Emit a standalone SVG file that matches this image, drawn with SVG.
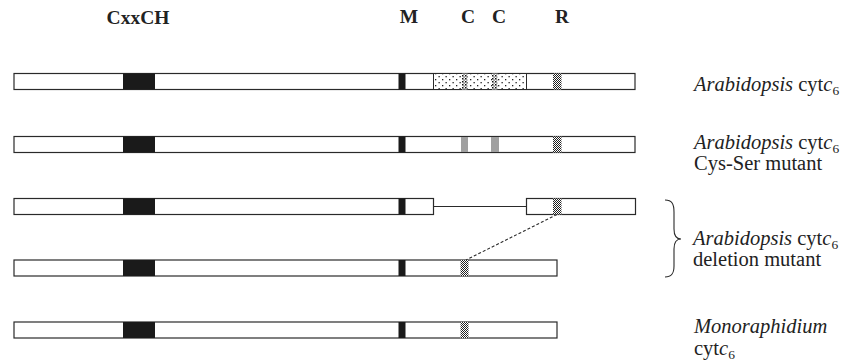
<svg xmlns="http://www.w3.org/2000/svg" width="845" height="363" viewBox="0 0 845 363">
  <defs>
    <pattern id="checker" width="2" height="2" patternUnits="userSpaceOnUse">
      <rect width="2" height="2" fill="#ffffff"/>
      <rect width="1" height="1" fill="#222"/>
      <rect x="1" y="1" width="1" height="1" fill="#222"/>
    </pattern>
    <pattern id="dots" width="7" height="6" patternUnits="userSpaceOnUse">
      <rect width="7" height="6" fill="#ffffff"/>
      <rect x="1" y="1" width="1.3" height="1.3" fill="#222"/>
      <rect x="4.5" y="4" width="1.3" height="1.3" fill="#222"/>
    </pattern>
    <pattern id="densedots" width="3" height="3" patternUnits="userSpaceOnUse">
      <rect width="3" height="3" fill="#ffffff"/>
      <rect width="1.5" height="1.5" fill="#111"/>
      <rect x="1.5" y="1.5" width="1.2" height="1.2" fill="#333"/>
    </pattern>
  </defs>
  <style>
    .bar { fill: #ffffff; stroke: #2a2a2a; stroke-width: 1.2; }
    .heme { fill: #1a1a1a; }
    .met { fill: #1a1a1a; }
    .res { fill: url(#checker); }
    .cys { fill: #a0a0a0; }
    .motif { font-family: "Liberation Serif", "Times New Roman", serif; font-weight: bold; font-size: 19.5px; fill: #222; text-anchor: middle; }
    .lbl { font-family: "Liberation Serif", "Times New Roman", serif; font-size: 20.5px; fill: #222; }
    .it { font-style: italic; }
    .sub { font-size: 13.5px; }
    .link { stroke: #2a2a2a; stroke-width: 1.1; fill: none; }
  </style>

  <!-- motif headers -->
  <g id="headers">
    <text class="motif" x="138" y="24">CxxCH</text>
    <text class="motif" x="409" y="23">M</text>
    <text class="motif" x="468" y="23">C</text>
    <text class="motif" x="499" y="23">C</text>
    <text class="motif" x="562" y="23">R</text>
  </g>

  <!-- wild-type Arabidopsis -->
  <g id="arabidopsis-wt">
    <rect class="bar" x="14" y="73.5" width="621" height="16"/>
    <rect class="heme" x="123" y="73.5" width="32" height="16"/>
    <rect class="met" x="398.5" y="73.5" width="7" height="16"/>
    <rect x="433.5" y="73.5" width="93" height="16" fill="url(#dots)" stroke="#2a2a2a" stroke-width="1"/>
    <rect x="462" y="73.5" width="5.5" height="16" fill="url(#densedots)"/>
    <rect x="492" y="73.5" width="5.5" height="16" fill="url(#densedots)"/>
    <rect class="res" x="553" y="73.5" width="8.5" height="16"/>
  </g>

  <!-- Cys-Ser mutant -->
  <g id="arabidopsis-cys-ser">
    <rect class="bar" x="14" y="136.5" width="621" height="16"/>
    <rect class="heme" x="123" y="136.5" width="32" height="16"/>
    <rect class="met" x="398.5" y="136.5" width="7" height="16"/>
    <rect class="cys" x="461" y="137" width="7" height="15"/>
    <rect class="cys" x="491" y="137" width="8" height="15"/>
    <rect class="res" x="553" y="136.5" width="8.5" height="16"/>
  </g>

  <!-- deletion mutant, upper full-length bar -->
  <g id="deletion-upper">
    <rect class="bar" x="14" y="198.5" width="419.5" height="16"/>
    <rect class="heme" x="123" y="198.5" width="32" height="16"/>
    <rect class="met" x="398.5" y="198.5" width="7" height="16"/>
    <rect class="bar" x="526.5" y="198.5" width="109" height="16"/>
    <rect class="res" x="553" y="198.5" width="8.5" height="16"/>
  </g>

  <!-- deletion mutant, shortened bar -->
  <g id="deletion-lower">
    <rect class="bar" x="14" y="260" width="543" height="16"/>
    <rect class="heme" x="123" y="260" width="32" height="16"/>
    <rect class="met" x="398.5" y="260" width="7" height="16"/>
    <rect class="res" x="460.5" y="260" width="8" height="16"/>
  </g>

  <!-- Monoraphidium -->
  <g id="monoraphidium">
    <rect class="bar" x="14" y="322" width="543" height="16"/>
    <rect class="heme" x="123" y="322" width="32" height="16"/>
    <rect class="met" x="398.5" y="322" width="7" height="16"/>
    <rect class="res" x="460.5" y="322" width="8" height="16"/>
  </g>

  <!-- connectors -->
  <g id="connectors">
    <line class="link" x1="433.5" y1="206.5" x2="526.5" y2="206.5"/>
    <line class="link" x1="557" y1="214.5" x2="466" y2="260" stroke-dasharray="3,2"/>
  </g>

  <!-- bracket grouping the deletion mutant rows -->
  <g id="brace">
    <path class="link" d="M665,200 C672,200 674,204 674,212 L674,229 C674,236 676,239 681,239 C676,239 674,242 674,249 L674,266 C674,273 672,277 665,277"/>
  </g>

  <!-- row labels -->
  <g id="labels">
    <text class="lbl" x="694" y="91"><tspan class="it">Arabidopsis</tspan> cyt<tspan class="it">c</tspan><tspan class="sub" dy="4">6</tspan></text>
    <text class="lbl" x="694" y="149"><tspan class="it">Arabidopsis</tspan> cyt<tspan class="it">c</tspan><tspan class="sub" dy="4">6</tspan></text>
    <text class="lbl" x="694" y="170">Cys-Ser mutant</text>
    <text class="lbl" x="693" y="245"><tspan class="it">Arabidopsis</tspan> cyt<tspan class="it">c</tspan><tspan class="sub" dy="4">6</tspan></text>
    <text class="lbl" x="693" y="266">deletion mutant</text>
    <text class="lbl it" x="694" y="333">Monoraphidium</text>
    <text class="lbl" x="694" y="355">cyt<tspan class="it">c</tspan><tspan class="sub" dy="4">6</tspan></text>
  </g>
</svg>
